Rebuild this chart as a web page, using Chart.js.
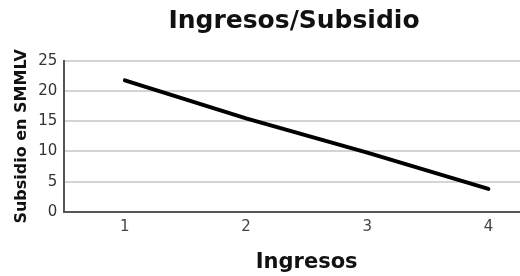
<!DOCTYPE html>
<html>
<head>
<meta charset="utf-8">
<script src="https://cdn.jsdelivr.net/npm/chart.js@4/dist/chart.umd.min.js"></script>
<style>
  html, body { margin: 0; padding: 0; background: #fff; overflow: hidden; }
  #wrap { width: 580px; height: 276px; position: relative; }
</style>
</head>
<body>
<div id="wrap"><canvas id="myChart"></canvas></div>
<script>
var ingresos = ['1', '2', '3', '4'];
var subsidio = [21.8, 15.5, 9.8, 3.8];
var yTicks = [0, 5, 10, 15, 20, 25];

var fam = '"DejaVu Sans", Verdana, sans-serif';
var ctx = document.getElementById('myChart').getContext('2d');
var myChart = new Chart(ctx, {
  type: 'line',
  data: {
    labels: ingresos,
    datasets: [{
      label: 'Subsidio',
      data: subsidio,
      borderColor: '#000',
      borderWidth: 4,
      borderCapStyle: 'round',
      pointRadius: 0,
      tension: 0,
      fill: false
    }]
  },
  options: {
    responsive: true,
    maintainAspectRatio: false,
    animation: false,
    layout: { padding: { left: 8, right: 0, top: 0, bottom: 0 } },
    plugins: {
      legend: { display: false },
      tooltip: { enabled: false },
      title: {
        display: true,
        text: 'Ingresos/Subsidio',
        color: '#111',
        font: { family: fam, size: 25, weight: 'bold' },
        padding: { top: 6, bottom: 25 }
      }
    },
    scales: {
      x: {
        offset: true,
        grid: { display: false, drawTicks: false },
        border: { display: true, color: '#555', width: 2 },
        ticks: { color: '#444', padding: 6, font: { family: fam, size: 15 } },
        title: {
          display: true,
          text: 'Ingresos',
          color: '#111',
          font: { family: fam, size: 21, weight: 'bold' },
          padding: { top: 8, bottom: 1 }
        }
      },
      y: {
        min: 0,
        max: 25,
        afterBuildTicks: function (axis) {
          axis.ticks = yTicks.map(function (v) { return { value: v }; });
        },
        grid: { color: '#d4d4d4', lineWidth: 2, drawTicks: false },
        border: { display: true, color: '#555', width: 2 },
        ticks: { color: '#333', padding: 7, font: { family: fam, size: 15 } },
        title: {
          display: true,
          text: 'Subsidio en SMMLV',
          color: '#111',
          font: { family: fam, size: 16, weight: 'bold' },
          padding: { top: 4, bottom: 0 }
        }
      },
      yRight: {
        position: 'right',
        display: true,
        grid: { display: false, drawTicks: false },
        border: { display: false },
        ticks: { display: false },
        afterFit: function (axis) { axis.width = 31; }
      }
    }
  }
});
</script>
</body>
</html>
